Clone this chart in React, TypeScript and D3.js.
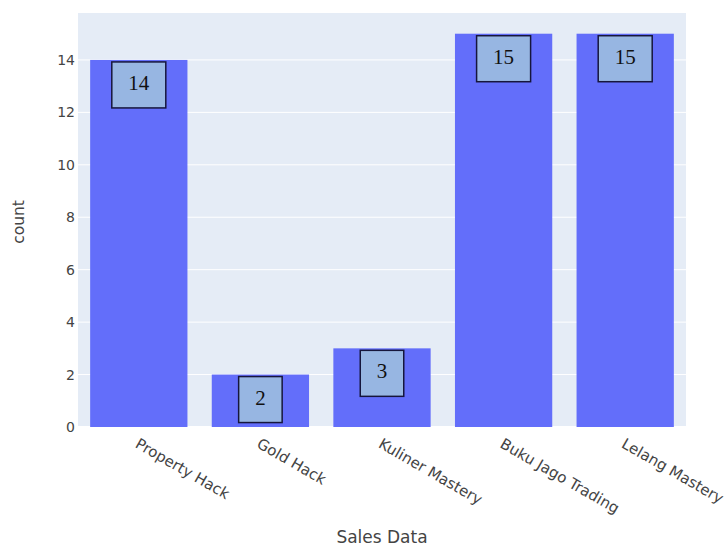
import React from "react";
import * as d3 from "d3";

const categories = ["Property Hack", "Gold Hack", "Kuliner Mastery", "Buku Jago Trading", "Lelang Mastery"];
const counts = [14, 2, 3, 15, 15];
const yTicks = [0, 2, 4, 6, 8, 10, 12, 14];

const W = 726;
const H = 548;
const margin = { left: 78, right: 40, top: 13, bottom: 121 };
const font = "'DejaVu Sans', Verdana, sans-serif";

export default function App() {
  const plotW = W - margin.left - margin.right;
  const plotH = H - margin.top - margin.bottom;

  const x = d3.scaleBand<string>().domain(categories).range([0, plotW]).paddingInner(0.2).paddingOuter(0.1);
  const y = d3.scaleLinear().domain([0, 15.79]).range([plotH, 0]);

  return (
    <div style={{ position: "fixed", left: 0, top: 0 }}>
      <svg width={W} height={H} style={{ display: "block", background: "#fff" }}>
        <g transform={`translate(${margin.left},${margin.top})`}>
          <rect x={0} y={0} width={plotW} height={plotH} fill="#e5ecf6" />
          {yTicks.map((t) => (
            <line key={t} x1={0} x2={plotW} y1={y(t)} y2={y(t)} stroke="#fff" strokeWidth={t === 0 ? 2 : 1} />
          ))}
          {categories.map((c, i) => (
            <rect key={c} x={x(c)} y={y(counts[i])} width={x.bandwidth()} height={plotH - y(counts[i])} fill="#636efa" />
          ))}
          {categories.map((c, i) => {
            const label = String(counts[i]);
            const bw = label.length * 10.5 + 33;
            const bh = 46;
            const cx = (x(c) as number) + x.bandwidth() / 2;
            const top = y(counts[i]) + 2;
            return (
              <g key={"lbl" + c}>
                <rect x={cx - bw / 2} y={top} width={bw} height={bh} fill="#97b6e2" stroke="#16163c" strokeWidth={1.5} />
                <text x={cx} y={top + bh / 2 - 2} textAnchor="middle" dominantBaseline="central" fontFamily="'Liberation Serif', 'Times New Roman', serif" fontSize={21} fill="#111">
                  {label}
                </text>
              </g>
            );
          })}
          {yTicks.map((t) => (
            <text key={"yt" + t} x={-3} y={y(t)} textAnchor="end" dominantBaseline="central" fontFamily={font} fontSize={14} fill="#444">
              {t}
            </text>
          ))}
          {categories.map((c) => {
            const cx = (x(c) as number) + x.bandwidth() / 2;
            return (
              <text key={"xt" + c} transform={`translate(${cx + 1},${plotH + 10}) rotate(30)`} textAnchor="start" dy="0.75em" fontFamily={font} fontSize={15} fill="#444">
                {c}
              </text>
            );
          })}
        </g>
        <text x={margin.left + plotW / 2} y={H - 5} textAnchor="middle" fontFamily={font} fontSize={17} fill="#444">
          Sales Data
        </text>
        <text transform={`translate(24,${margin.top + plotH / 2 + 2}) rotate(-90)`} textAnchor="middle" fontFamily={font} fontSize={15.5} fill="#444">
          count
        </text>
      </svg>
    </div>
  );
}
